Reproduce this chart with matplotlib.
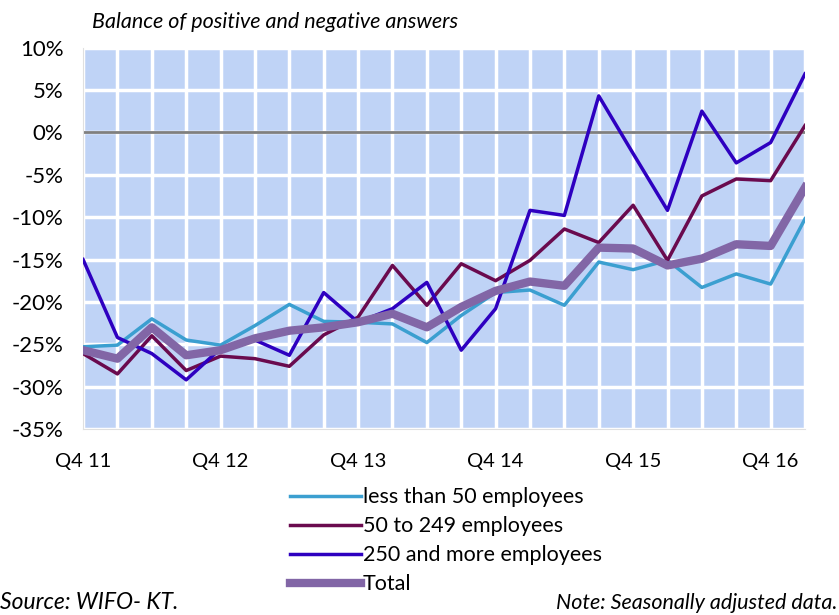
import matplotlib.pyplot as plt
import numpy as np

plt.rcParams['font.family'] = ['Lato', 'DejaVu Sans']

# quarters Q4 11 ... Q1 17
quarters = ['Q4 11', 'Q1 12', 'Q2 12', 'Q3 12', 'Q4 12', 'Q1 13', 'Q2 13', 'Q3 13',
            'Q4 13', 'Q1 14', 'Q2 14', 'Q3 14', 'Q4 14', 'Q1 15', 'Q2 15', 'Q3 15',
            'Q4 15', 'Q1 16', 'Q2 16', 'Q3 16', 'Q4 16', 'Q1 17']

small = [-25.3, -25.1, -22.0, -24.5, -25.1, -22.8, -20.3, -22.3, -22.4, -22.6, -24.8,
         -21.6, -18.9, -18.6, -20.4, -15.3, -16.2, -15.1, -18.3, -16.7, -17.9, -10.2]
medium = [-26.1, -28.5, -24.0, -28.1, -26.4, -26.7, -27.6, -23.9, -21.8, -15.7, -20.4,
          -15.5, -17.5, -15.1, -11.4, -13.0, -8.6, -15.1, -7.5, -5.5, -5.7, 0.8]
large = [-15.0, -24.2, -26.1, -29.2, -25.5, -24.5, -26.3, -18.9, -22.4, -20.8, -17.7,
         -25.7, -20.8, -9.2, -9.8, 4.3, -2.5, -9.2, 2.5, -3.6, -1.2, 6.9]
total = [-25.7, -26.7, -23.0, -26.3, -25.7, -24.3, -23.4, -23.0, -22.4, -21.4, -23.0,
         -20.6, -18.7, -17.6, -18.1, -13.6, -13.7, -15.7, -14.9, -13.2, -13.4, -6.5]

x = np.arange(len(quarters))

fig = plt.figure(figsize=(8.39, 6.15), dpi=100)
ax = fig.add_axes([0.099, 0.3024, 0.8605, 0.6202])
ax.set_facecolor('#bfd3f6')

ax.set_xticks(x, minor=True)
ax.set_xticks(x[::4])
ax.set_xticklabels(quarters[::4], fontsize=14.5)
ax.set_yticks(range(-35, 11, 5))
ax.set_yticklabels([f'{v}%' for v in range(-35, 11, 5)], fontsize=16)
ax.grid(True, which='both', color='white', linewidth=2.5)
ax.set_axisbelow(True)
ax.tick_params(which='both', length=0)
ax.tick_params(axis='x', pad=17)
ax.tick_params(axis='y', pad=14)
for s in ax.spines.values():
    s.set_visible(False)
ax.spines['left'].set_visible(True)
ax.spines['bottom'].set_visible(True)
ax.spines['left'].set_color('#e0e0e0')
ax.spines['bottom'].set_color('#e0e0e0')

ax.axhline(0, color='#7f7f7f', linewidth=2, zorder=2)

ax.plot(x, small, color='#3b9fd0', linewidth=2.5, label='less than 50 employees', zorder=3)
ax.plot(x, medium, color='#6a0a4e', linewidth=2.5, label='50 to 249 employees', zorder=3)
ax.plot(x, large, color='#2e00c0', linewidth=2.5, label='250 and more employees', zorder=3)
ax.plot(x, total, color='#8266a6', linewidth=6, label='Total', zorder=4)

ax.set_xlim(0, 21)
ax.set_ylim(-35, 10)

fig.legend(loc='upper left', bbox_to_anchor=(0.335, 0.222), frameon=False, fontsize=15.5,
           handlelength=3.3, handletextpad=0.1, labelspacing=0.42, borderaxespad=0)

fig.text(0.11, 0.955, 'Balance of positive and negative answers', style='italic', fontsize=15.5)
fig.text(0.0, 0.01, 'Source: WIFO- KT.', style='italic', fontsize=16.5)
fig.text(0.998, 0.01, 'Note: Seasonally adjusted data.', style='italic', fontsize=15.5, ha='right')

fig.savefig('out.png', dpi=100)
